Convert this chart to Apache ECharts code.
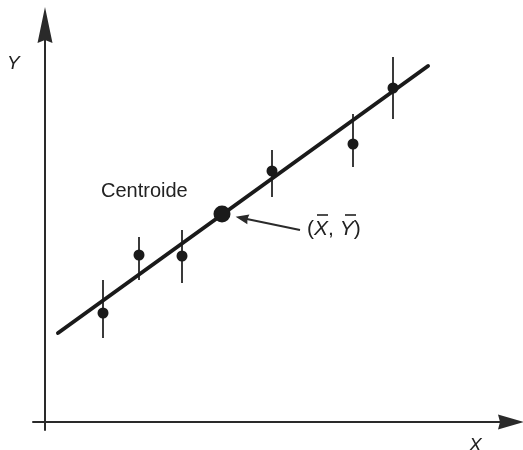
<!DOCTYPE html>
<html>
<head>
<meta charset="utf-8">
<script src="https://cdn.jsdelivr.net/npm/echarts@6/dist/echarts.min.js"></script>
<style>
  html, body { margin: 0; padding: 0; background: #ffffff; }
  #chart { width: 523px; height: 450px; }
</style>
</head>
<body>
<div id="chart"></div>
<script>
// Observations with their uncertainty ranges
const pointX = [5.8, 9.4, 13.7, 22.7, 30.8, 34.8];
const pointY = [10.9, 16.7, 16.6, 25.1, 27.8, 33.4];
const barTop = [14.2, 18.5, 19.2, 27.2, 30.8, 36.5];
const barBottom = [8.4, 14.2, 13.9, 22.5, 25.5, 30.3];

// Centroid (mean of X, mean of Y) and the fitted straight line
const centroid = [17.7, 20.8];
const fitLineX = [1.3, 38.3];
const fitLineY = [8.9, 35.6];

// Pointer from the label to the centroid
const pointerFrom = [25.5, 19.2];
const pointerTo = [19.7, 20.4];

const ink = '#1a1a1a';
const points = pointX.map((x, i) => [x, pointY[i]]);
const bars = pointX.map((x, i) => [x, barBottom[i], barTop[i]]);
const fitLine = fitLineX.map((x, i) => [x, fitLineY[i]]);

const chart = echarts.init(document.getElementById('chart'), null, { renderer: 'canvas' });

const font = '"Liberation Sans", Arial, sans-serif';

chart.setOption({
  backgroundColor: '#ffffff',
  animation: false,
  grid: { left: 33, right: 12, top: 25, bottom: 20 },
  xAxis: {
    type: 'value', min: -1.2, max: 46.6,
    axisLine: {
      onZero: true,
      symbol: ['none', 'path://M7.5,0 L15,26 L7.5,24 L0,26 Z'], symbolSize: [15, 26],
      lineStyle: { color: '#2a2a2a', width: 2 }
    },
    axisTick: { show: false }, axisLabel: { show: false }, splitLine: { show: false }
  },
  yAxis: {
    type: 'value', min: -0.8, max: 39.7,
    axisLine: {
      onZero: true,
      symbol: ['none', 'path://M7.5,0 L15,36 L7.5,33 L0,36 Z'], symbolSize: [15, 36],
      lineStyle: { color: '#2a2a2a', width: 2 }
    },
    axisTick: { show: false }, axisLabel: { show: false }, splitLine: { show: false }
  },
  series: [
    {
      type: 'line', data: fitLine, symbol: 'none', silent: true,
      lineStyle: { color: ink, width: 4, cap: 'round' }, z: 3
    },
    {
      type: 'custom', data: bars, silent: true, z: 2,
      renderItem: function (params, api) {
        const lo = api.coord([api.value(0), api.value(1)]);
        const hi = api.coord([api.value(0), api.value(2)]);
        return {
          type: 'line',
          shape: { x1: lo[0], y1: lo[1], x2: hi[0], y2: hi[1] },
          style: { stroke: '#3a3a3a', lineWidth: 2 }
        };
      }
    },
    {
      type: 'scatter', data: points, symbol: 'circle', symbolSize: 11, silent: true,
      itemStyle: { color: ink, opacity: 1 }, z: 4
    },
    {
      type: 'scatter', data: [centroid], symbol: 'circle', symbolSize: 17, silent: true,
      itemStyle: { color: ink, opacity: 1 }, z: 5,
      markLine: {
        silent: true, animation: false,
        symbol: ['none', 'path://M5,0 L10,13 L5,12 L0,13 Z'], symbolSize: [10, 13],
        label: { show: false },
        lineStyle: { color: '#2a2a2a', width: 2, type: 'solid', opacity: 1 },
        data: [[{ coord: pointerFrom }, { coord: pointerTo }]]
      }
    }
  ],
  graphic: [
    {
      type: 'text', left: 101, top: 181,
      style: { text: 'Centroide', font: '20px ' + font, fill: '#222' }
    },
    {
      type: 'text', left: 307, top: 219,
      style: {
        text: '{p|(}{i|X}{p|, }{i|Y}{p|)}',
        rich: {
          p: { font: '21px ' + font, fill: '#222' },
          i: { font: 'italic 21px ' + font, fill: '#222' }
        }
      }
    },
    // bars over the mean symbols
    { type: 'line', shape: { x1: 317, y1: 215, x2: 328, y2: 215 }, style: { stroke: '#222', lineWidth: 1.6 } },
    { type: 'line', shape: { x1: 345, y1: 215, x2: 356, y2: 215 }, style: { stroke: '#222', lineWidth: 1.6 } },
    {
      type: 'text', left: 7, top: 54,
      style: { text: 'Y', font: 'italic 19px ' + font, fill: '#222' }
    },
    {
      type: 'text', left: 469, top: 436,
      style: { text: 'X', font: 'italic 19px ' + font, fill: '#222' }
    }
  ]
});
</script>
</body>
</html>
